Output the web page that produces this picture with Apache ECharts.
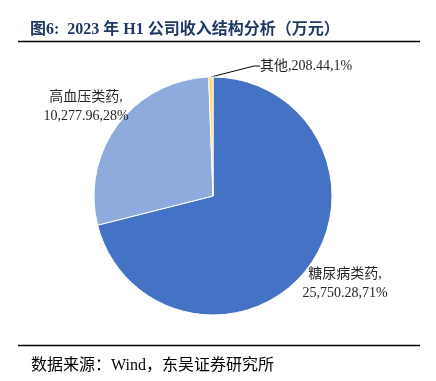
<!DOCTYPE html>
<html>
<head>
<meta charset="utf-8">
<script src="https://cdn.jsdelivr.net/npm/echarts@6/dist/echarts.min.js"></script>
<style>
html,body{margin:0;padding:0;background:#fff;}
#chart{width:436px;height:381px;}
</style>
</head>
<body>
<div id="chart"></div>
<script>
var categories = ['糖尿病类药', '高血压类药', '其他'];
var values = [25750.28, 10277.96, 208.44];
var colors = ['#4472C4', '#8FAADC', '#FFD966'];

function fmt(v) {
  var parts = v.toFixed(2).split('.');
  parts[0] = parts[0].replace(/\B(?=(\d{3})+(?!\d))/g, ',');
  return parts.join('.');
}

var FONT = '"Liberation Serif", "Noto Sans CJK SC", serif';
var labelPos = [
  {x: 345, y: 284, align: 'center'},
  {x: 86, y: 107, align: 'center'},
  {x: 260, y: 66, align: 'left'}
];

var chart = echarts.init(document.getElementById('chart'), null, {renderer: 'canvas'});
chart.setOption({
  backgroundColor: '#fff',
  animation: false,
  title: [{
    text: '图6:  2023 年 H1 公司收入结构分析（万元）',
    left: 25, top: 17,
    textStyle: {fontFamily: FONT, fontSize: 16, fontWeight: 'bold', color: '#203864'}
  }, {
    text: '数据来源：Wind，东吴证券研究所',
    left: 26, top: 353,
    textStyle: {fontFamily: FONT, fontSize: 16, fontWeight: 'normal', color: '#000'}
  }],
  graphic: [
    {type: 'line', shape: {x1: 18, y1: 41.5, x2: 420, y2: 41.5}, style: {stroke: '#000', lineWidth: 1.5}},
    {type: 'line', shape: {x1: 18, y1: 345.5, x2: 420, y2: 345.5}, style: {stroke: '#000', lineWidth: 1.5}}
  ],
  series: [{
    type: 'pie',
    center: [213, 196],
    radius: 119,
    startAngle: 90,
    clockwise: true,
    percentPrecision: 0,
    itemStyle: {borderColor: '#fff', borderWidth: 1},
    label: {
      show: true,
      fontFamily: FONT,
      fontSize: 14,
      lineHeight: 19,
      color: '#262626',
      overflow: 'none',
      formatter: function (p) {
        var sep = p.dataIndex === 2 ? ',' : ',\n';
        return p.name + sep + fmt(p.value) + ',' + p.percent + '%';
      }
    },
    labelLine: {show: false},
    labelLayout: function (params) {
      var lp = labelPos[params.dataIndex];
      return {x: lp.x, y: lp.y, align: lp.align, verticalAlign: 'middle', width: 140};
    },
    data: categories.map(function (c, i) {
      var d = {name: c, value: values[i], itemStyle: {color: colors[i]}};
      if (i === 2) {
        d.labelLine = {show: true, length: 22, length2: 6, lineStyle: {color: '#000', width: 1}};
      }
      return d;
    })
  }]
});
</script>
</body>
</html>
